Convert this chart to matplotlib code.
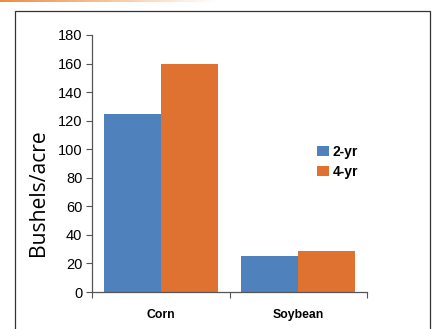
import numpy as np
import matplotlib
matplotlib.use("Agg")
import matplotlib.pyplot as plt
from matplotlib.patches import Rectangle
from matplotlib import font_manager

crops = ["Corn", "Soybean"]
series_names = ["2-yr", "4-yr"]
yield_2yr = [125, 25]
yield_4yr = [160, 29]
y_ticks = [0, 20, 40, 60, 80, 100, 120, 140, 160, 180]

blue = "#4F81BD"
orange = "#E07231"
axis_col = "#555555"

names = {f.name for f in font_manager.fontManager.ttflist}
narrow = "Liberation Sans Narrow" if "Liberation Sans Narrow" in names else "Liberation Sans"

fig = plt.figure(figsize=(4.33, 3.29), dpi=100)

# thin orange strip fading out along the top edge
strip = fig.add_axes([0, 1 - 2.5 / 329, 0.5, 2.5 / 329])
grad = np.linspace(0, 1, 256)
rgba = np.zeros((1, 256, 4))
rgba[0, :, 0] = 0.93
rgba[0, :, 1] = 0.55
rgba[0, :, 2] = 0.25
rgba[0, :, 3] = 1 - grad
strip.imshow(rgba, aspect="auto", extent=[0, 1, 0, 1])
strip.axis("off")

# outer frame
fig.patches.append(Rectangle((15 / 433, -0.05), (430 - 15) / 433, 1 - 11 / 329 + 0.05,
                             transform=fig.transFigure, fill=False,
                             edgecolor="#333333", linewidth=0.9))

ax = fig.add_axes([92 / 433, 1 - 292 / 329, (367 - 92) / 433, (292 - 35) / 329])
x = np.arange(len(crops))
w = 57 / 138
ax.bar(x - w / 2, yield_2yr, width=w, color=blue, label=series_names[0])
ax.bar(x + w / 2, yield_4yr, width=w, color=orange, label=series_names[1])

ax.set_xlim(-0.5, len(crops) - 0.5)
ax.set_ylim(0, 180)
ax.set_yticks(y_ticks)
ax.set_yticklabels([str(v) for v in y_ticks], fontsize=10.5, family="Liberation Sans")
ax.set_xticks([-0.5, 0.5, 1.5])
ax.set_xticklabels([])
ax.set_xticks(x, minor=True)
ax.set_xticklabels(crops, minor=True, fontsize=8.8, family=narrow, fontweight="bold")
ax.tick_params(axis="x", which="minor", length=0, pad=12)
ax.tick_params(axis="x", which="major", length=4, color=axis_col, direction="out")
ax.tick_params(axis="y", length=4, color=axis_col, direction="out", pad=3)
for s in ["top", "right"]:
    ax.spines[s].set_visible(False)
for s in ["left", "bottom"]:
    ax.spines[s].set_color(axis_col)
    ax.spines[s].set_linewidth(0.9)

# y-axis title, centred at x=38px and spanning about 127px of height
ylab = fig.text(38 / 433, 1 - 193 / 329, "Bushels/acre", rotation=90,
                ha="center", va="center", family="Open Sans", fontsize=14)
fig.canvas.draw()
ext = ylab.get_window_extent()
ylab.set_fontsize(14 * 127 / ext.height)

leg = ax.legend(loc="upper left", bbox_to_anchor=(0.0, 0.0), frameon=False,
                prop={"family": narrow, "weight": "bold", "size": 10},
                handlelength=0.86, handleheight=0.72, handletextpad=0.25,
                labelspacing=0.45, borderaxespad=0, borderpad=0)
# place legend's top-left at (317px, 145px)
leg.set_bbox_to_anchor((317 / 433, 1 - 145 / 329), transform=fig.transFigure)

fig.savefig("out.png", dpi=100, facecolor="white")
